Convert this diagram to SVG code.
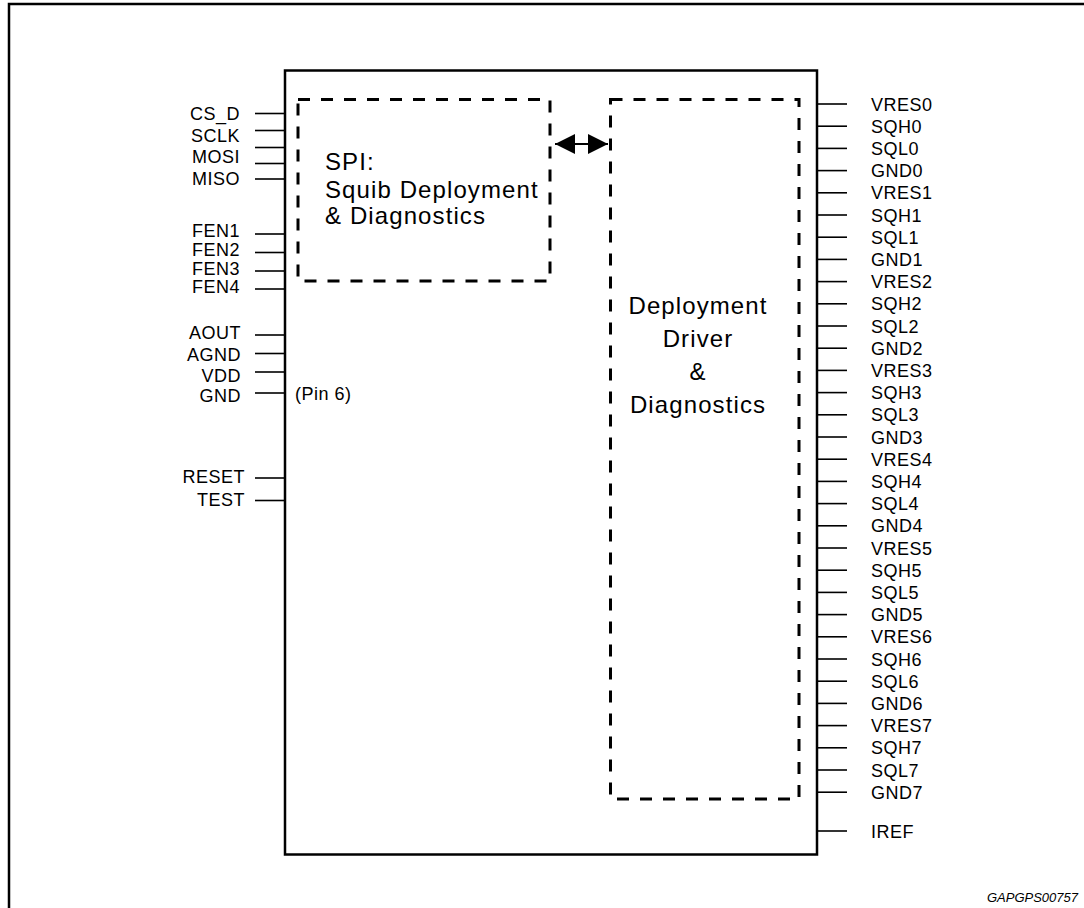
<svg xmlns="http://www.w3.org/2000/svg" width="1084" height="908" viewBox="0 0 1084 908">
<defs>
<style>
.frame{fill:none;stroke:#000;stroke-width:2.5}
.box{fill:#fff;stroke:#000;stroke-width:2.5}
.dash{fill:none;stroke:#000;stroke-width:3;stroke-dasharray:12 11}
.pin{stroke:#000;stroke-width:1.6}
.lbl{font-family:"Liberation Sans",Arial,sans-serif;font-size:18px;letter-spacing:0.5px;fill:#000}
.l{text-anchor:end}
.big{font-family:"Liberation Sans",Arial,sans-serif;font-size:24px;letter-spacing:1.1px;fill:#000}
.mid{text-anchor:middle}
.ref{font-family:"Liberation Sans",Arial,sans-serif;font-size:13px;font-style:italic;fill:#000;text-anchor:end}
</style>
<marker id="ah" viewBox="0 0 20 20" refX="20" refY="10" markerWidth="20" markerHeight="20" markerUnits="userSpaceOnUse" orient="auto-start-reverse">
<path d="M0,0 L20,10 L0,20 Z" fill="#000"/>
</marker>
</defs>
<rect width="1084" height="908" fill="#fff"/>
<path class="frame" d="M9,908 V4 H1084"/>

<g id="chip">
<rect class="box" x="285" y="70.5" width="532" height="784"/>
</g>

<g id="spi">
<rect class="dash" x="298" y="99.5" width="252" height="181.5"/>
<text class="big" x="325" y="170">SPI:</text>
<text class="big" x="325" y="198">Squib Deployment</text>
<text class="big" x="325" y="224">&amp; Diagnostics</text>
</g>

<g id="driver">
<rect class="dash" x="610.5" y="99.5" width="188.5" height="699.5"/>
<text class="big mid" x="698" y="314">Deployment</text>
<text class="big mid" x="698" y="347">Driver</text>
<text class="big mid" x="698" y="380">&amp;</text>
<text class="big mid" x="698" y="413">Diagnostics</text>
</g>

<g id="connectors">
<line x1="555" y1="144" x2="608" y2="144" stroke="#000" stroke-width="2.2" marker-start="url(#ah)" marker-end="url(#ah)"/>
<g class="pin">
<line x1="255" y1="113.5" x2="285" y2="113.5"/>
<line x1="255" y1="130.5" x2="285" y2="130.5"/>
<line x1="255" y1="147.5" x2="285" y2="147.5"/>
<line x1="255" y1="163.5" x2="285" y2="163.5"/>
<line x1="255" y1="179" x2="285" y2="179"/>
<line x1="255" y1="234" x2="285" y2="234"/>
<line x1="255" y1="252.5" x2="285" y2="252.5"/>
<line x1="255" y1="271" x2="285" y2="271"/>
<line x1="255" y1="289" x2="285" y2="289"/>
<line x1="255" y1="335" x2="285" y2="335"/>
<line x1="255" y1="353.5" x2="285" y2="353.5"/>
<line x1="255" y1="372" x2="285" y2="372"/>
<line x1="255" y1="393" x2="285" y2="393"/>
<line x1="255" y1="478" x2="285" y2="478"/>
<line x1="255" y1="500.5" x2="285" y2="500.5"/>
<line x1="817" y1="104" x2="847" y2="104"/>
<line x1="817" y1="126.2" x2="847" y2="126.2"/>
<line x1="817" y1="148.4" x2="847" y2="148.4"/>
<line x1="817" y1="170.6" x2="847" y2="170.6"/>
<line x1="817" y1="192.8" x2="847" y2="192.8"/>
<line x1="817" y1="215" x2="847" y2="215"/>
<line x1="817" y1="237.2" x2="847" y2="237.2"/>
<line x1="817" y1="259.4" x2="847" y2="259.4"/>
<line x1="817" y1="281.6" x2="847" y2="281.6"/>
<line x1="817" y1="303.8" x2="847" y2="303.8"/>
<line x1="817" y1="326" x2="847" y2="326"/>
<line x1="817" y1="348.2" x2="847" y2="348.2"/>
<line x1="817" y1="370.4" x2="847" y2="370.4"/>
<line x1="817" y1="392.6" x2="847" y2="392.6"/>
<line x1="817" y1="414.8" x2="847" y2="414.8"/>
<line x1="817" y1="437" x2="847" y2="437"/>
<line x1="817" y1="459.2" x2="847" y2="459.2"/>
<line x1="817" y1="481.4" x2="847" y2="481.4"/>
<line x1="817" y1="503.6" x2="847" y2="503.6"/>
<line x1="817" y1="525.8" x2="847" y2="525.8"/>
<line x1="817" y1="548" x2="847" y2="548"/>
<line x1="817" y1="570.2" x2="847" y2="570.2"/>
<line x1="817" y1="592.4" x2="847" y2="592.4"/>
<line x1="817" y1="614.6" x2="847" y2="614.6"/>
<line x1="817" y1="636.8" x2="847" y2="636.8"/>
<line x1="817" y1="659" x2="847" y2="659"/>
<line x1="817" y1="681.2" x2="847" y2="681.2"/>
<line x1="817" y1="703.4" x2="847" y2="703.4"/>
<line x1="817" y1="725.6" x2="847" y2="725.6"/>
<line x1="817" y1="747.8" x2="847" y2="747.8"/>
<line x1="817" y1="770" x2="847" y2="770"/>
<line x1="817" y1="792.2" x2="847" y2="792.2"/>
<line x1="817" y1="831" x2="847" y2="831"/>
</g>
</g>

<g id="left-pins">
<text class="lbl l" x="240" y="120">CS_D</text>
<text class="lbl l" x="240" y="141.5">SCLK</text>
<text class="lbl l" x="240" y="163">MOSI</text>
<text class="lbl l" x="240" y="185">MISO</text>
<text class="lbl l" x="240" y="237">FEN1</text>
<text class="lbl l" x="240" y="256">FEN2</text>
<text class="lbl l" x="240" y="275">FEN3</text>
<text class="lbl l" x="240" y="293">FEN4</text>
<text class="lbl l" x="241" y="339">AOUT</text>
<text class="lbl l" x="241" y="361">AGND</text>
<text class="lbl l" x="241" y="382">VDD</text>
<text class="lbl l" x="241" y="402">GND</text>
<text class="lbl" x="295" y="400">(Pin 6)</text>
<text class="lbl l" x="245" y="483">RESET</text>
<text class="lbl l" x="245" y="506">TEST</text>
</g>

<g id="right-pins">
<text class="lbl" x="871" y="110.5">VRES0</text>
<text class="lbl" x="871" y="132.7">SQH0</text>
<text class="lbl" x="871" y="154.9">SQL0</text>
<text class="lbl" x="871" y="177.1">GND0</text>
<text class="lbl" x="871" y="199.3">VRES1</text>
<text class="lbl" x="871" y="221.5">SQH1</text>
<text class="lbl" x="871" y="243.7">SQL1</text>
<text class="lbl" x="871" y="265.9">GND1</text>
<text class="lbl" x="871" y="288.1">VRES2</text>
<text class="lbl" x="871" y="310.3">SQH2</text>
<text class="lbl" x="871" y="332.5">SQL2</text>
<text class="lbl" x="871" y="354.7">GND2</text>
<text class="lbl" x="871" y="376.9">VRES3</text>
<text class="lbl" x="871" y="399.1">SQH3</text>
<text class="lbl" x="871" y="421.3">SQL3</text>
<text class="lbl" x="871" y="443.5">GND3</text>
<text class="lbl" x="871" y="465.7">VRES4</text>
<text class="lbl" x="871" y="487.9">SQH4</text>
<text class="lbl" x="871" y="510.1">SQL4</text>
<text class="lbl" x="871" y="532.3">GND4</text>
<text class="lbl" x="871" y="554.5">VRES5</text>
<text class="lbl" x="871" y="576.7">SQH5</text>
<text class="lbl" x="871" y="598.9">SQL5</text>
<text class="lbl" x="871" y="621.1">GND5</text>
<text class="lbl" x="871" y="643.3">VRES6</text>
<text class="lbl" x="871" y="665.5">SQH6</text>
<text class="lbl" x="871" y="687.7">SQL6</text>
<text class="lbl" x="871" y="709.9">GND6</text>
<text class="lbl" x="871" y="732.1">VRES7</text>
<text class="lbl" x="871" y="754.3">SQH7</text>
<text class="lbl" x="871" y="776.5">SQL7</text>
<text class="lbl" x="871" y="798.7">GND7</text>
<text class="lbl" x="871" y="837.5">IREF</text>
</g>

<text class="ref" x="1078" y="902">GAPGPS00757</text>
</svg>
